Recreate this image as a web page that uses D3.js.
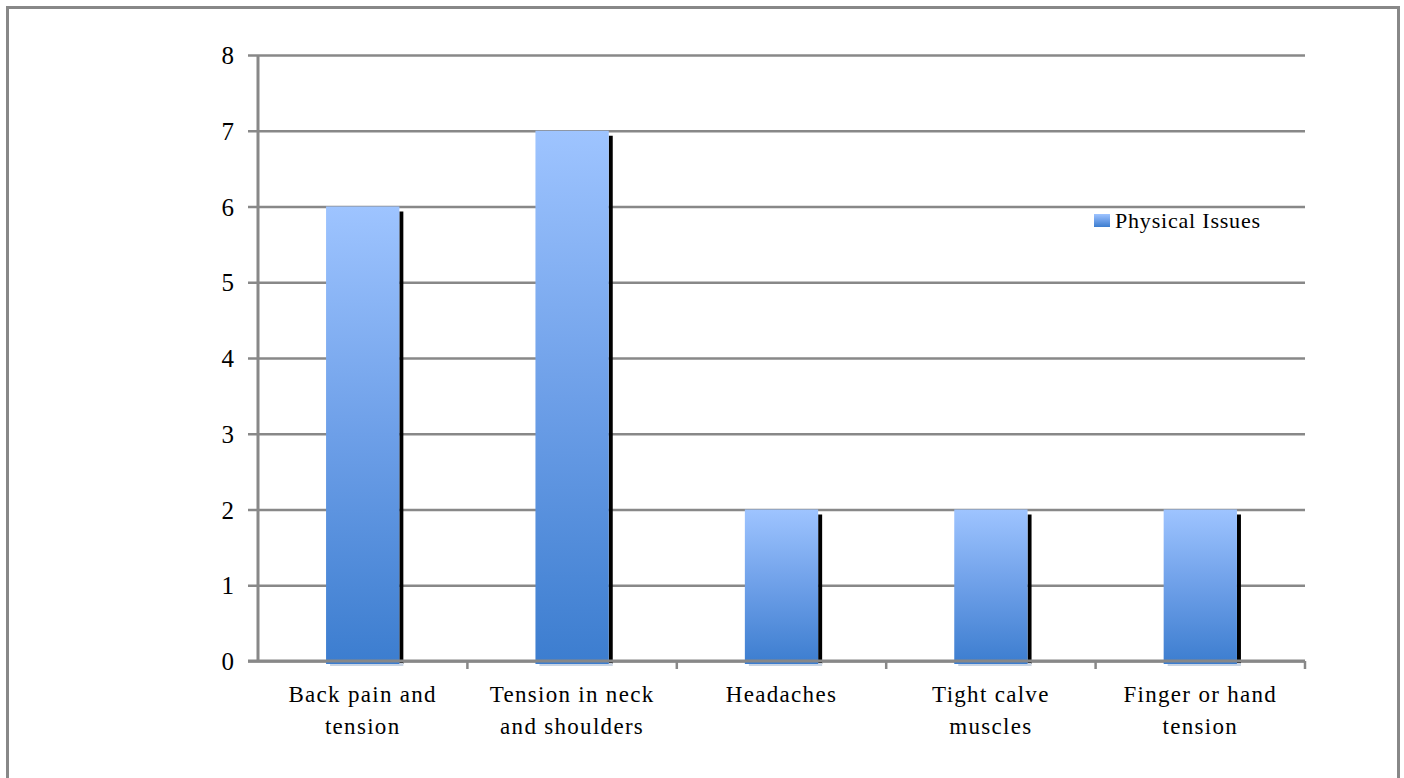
<!DOCTYPE html>
<html>
<head>
<meta charset="utf-8">
<script src="https://cdn.jsdelivr.net/npm/d3@7/dist/d3.min.js"></script>
<style>
  html, body { margin: 0; padding: 0; background: #fff; }
  svg { display: block; }
  text { font-family: "Liberation Serif", "Times New Roman", serif; fill: #000; }
</style>
</head>
<body>
<svg id="chart" width="1404" height="778"></svg>
<script>
// Survey counts of physical issues
const categories = [
  ["Back pain and", "tension"],
  ["Tension in neck", "and shoulders"],
  ["Headaches"],
  ["Tight calve", "muscles"],
  ["Finger or hand", "tension"]
];
const seriesName = "Physical Issues";
const values = [6, 7, 2, 2, 2];
const yTicks = [0, 1, 2, 3, 4, 5, 6, 7, 8];

const svg = d3.select("#chart");
const plot = { left: 258, right: 1305, top: 55, bottom: 661 };
const gridColor = "#888888";

// Outer frame (bottom edge falls below the visible area)
svg.append("rect")
  .attr("x", 7.5).attr("y", 7.5)
  .attr("width", 1391).attr("height", 800)
  .attr("fill", "none").attr("stroke", gridColor).attr("stroke-width", 3);

const x = d3.scaleBand()
  .domain(d3.range(categories.length))
  .range([plot.left, plot.right])
  .paddingInner(0).paddingOuter(0);

const y = d3.scaleLinear()
  .domain([0, 8])
  .range([plot.bottom, plot.top]);

// Gradient fill for bars and legend key
const defs = svg.append("defs");
const grad = defs.append("linearGradient")
  .attr("id", "barGrad")
  .attr("x1", 0).attr("y1", 0).attr("x2", 0).attr("y2", 1);
grad.append("stop").attr("offset", "0%").attr("stop-color", "#9ec4ff");
grad.append("stop").attr("offset", "50%").attr("stop-color", "#6d9fe8");
grad.append("stop").attr("offset", "100%").attr("stop-color", "#3c7dcf");

// Horizontal gridlines with tick stubs on the left
const yAxis = d3.axisLeft(y)
  .tickValues(yTicks)
  .tickSize(-(plot.right - plot.left) - 10)
  .tickPadding(14)
  .tickFormat(d3.format("d"));

const gy = svg.append("g")
  .attr("transform", `translate(${plot.left - 10},0)`)
  .call(yAxis);
gy.select(".domain").remove();
gy.selectAll(".tick line")
  .attr("stroke", gridColor).attr("stroke-width", 2.6);
gy.selectAll(".tick text")
  .attr("font-size", 25)
  .attr("font-family", "Liberation Serif, serif")
  .attr("dy", "0.34em")
  .style("fill", "#000");

// Bars
const barW = x.bandwidth() * 0.35;
const bars = svg.append("g");
values.forEach((v, i) => {
  const bx = x(i) + (x.bandwidth() - barW) / 2;
  const top = y(v);
  // drop shadow on the right side
  bars.append("rect")
    .attr("x", bx + barW).attr("y", top + 5)
    .attr("width", 4).attr("height", y(0) + 3 - top - 5)
    .attr("fill", "#000");
  // soft shadow beneath
  bars.append("rect")
    .attr("x", bx + 4).attr("y", y(0) + 2)
    .attr("width", barW).attr("height", 3)
    .attr("fill", "#c8d4e4");
  bars.append("rect")
    .attr("x", bx).attr("y", top)
    .attr("width", barW).attr("height", y(0) + 3 - top)
    .attr("fill", "url(#barGrad)");
});

// Vertical axis line
svg.append("line")
  .attr("x1", plot.left).attr("x2", plot.left)
  .attr("y1", plot.top).attr("y2", plot.bottom + 1)
  .attr("stroke", gridColor).attr("stroke-width", 3);

// Horizontal axis with category boundary ticks
const boundaries = d3.range(categories.length + 1).map(i =>
  i < categories.length ? x(i) : plot.right);
const gx = svg.append("g");
gx.append("line")
  .attr("x1", plot.left - 10).attr("x2", plot.right)
  .attr("y1", plot.bottom).attr("y2", plot.bottom)
  .attr("stroke", gridColor).attr("stroke-width", 3);
gx.selectAll("line.tk").data(boundaries.slice(1)).enter().append("line")
  .attr("class", "tk")
  .attr("x1", d => d).attr("x2", d => d)
  .attr("y1", plot.bottom).attr("y2", plot.bottom + 8)
  .attr("stroke", gridColor).attr("stroke-width", 2.5);

// Category labels
categories.forEach((lines, i) => {
  const cx = x(i) + x.bandwidth() / 2;
  const t = svg.append("text")
    .attr("x", cx)
    .attr("y", 702)
    .attr("text-anchor", "middle")
    .attr("font-size", 23)
    .attr("letter-spacing", "1.3px");
  lines.forEach((ln, j) => {
    t.append("tspan")
      .attr("x", cx)
      .attr("dy", j === 0 ? 0 : 32)
      .text(ln);
  });
});

// Legend
const lg = svg.append("g");
lg.append("rect")
  .attr("x", 1094).attr("y", 214)
  .attr("width", 16).attr("height", 13)
  .attr("fill", "url(#barGrad)");
lg.append("text")
  .attr("x", 1115).attr("y", 228)
  .attr("font-size", 22)
  .attr("letter-spacing", "0.8px")
  .text(seriesName);
</script>
</body>
</html>
